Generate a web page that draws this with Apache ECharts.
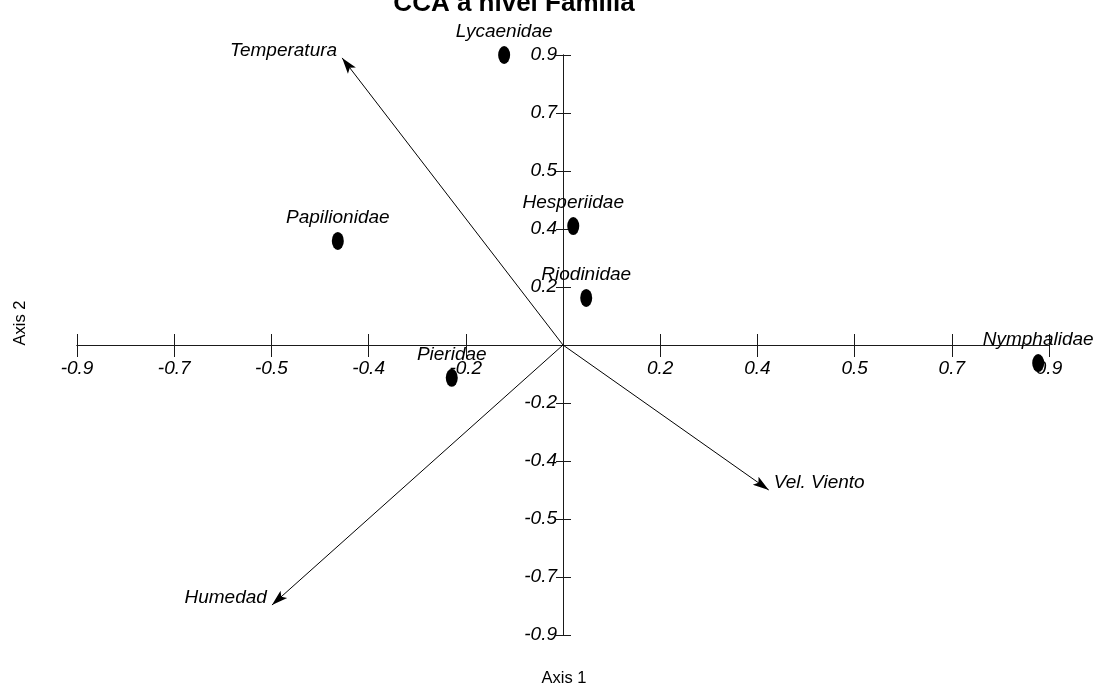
<!DOCTYPE html>
<html>
<head>
<meta charset="utf-8">
<script src="https://cdn.jsdelivr.net/npm/echarts@6/dist/echarts.min.js"></script>
<style>
html,body{margin:0;padding:0;background:#fff;}
#chart{width:1101px;height:695px;}
</style>
</head>
<body>
<div id="chart"></div>
<script>
// ---- data ----
const families = ['Lycaenidae', 'Papilionidae', 'Hesperiidae', 'Riodinidae', 'Pieridae', 'Nymphalidae'];
const famAxis1 = [-0.109, -0.417, 0.019, 0.043, -0.206, 0.880];
const famAxis2 = [0.900, 0.323, 0.369, 0.146, -0.102, -0.056];

const variables = ['Temperatura', 'Vel. Viento', 'Humedad'];
const varAxis1 = [-0.409, 0.381, -0.539];
const varAxis2 = [0.891, -0.450, -0.807];
const varLabelSide = ['left', 'right', 'left'];

const xTickLabels = ['-0.9', '-0.7', '-0.5', '-0.4', '-0.2', '', '0.2', '0.4', '0.5', '0.7', '0.9'];
const yTickLabels = ['-0.9', '-0.7', '-0.5', '-0.4', '-0.2', '', '0.2', '0.4', '0.5', '0.7', '0.9'];

const titleText = 'CCA a nivel Familia';
const xName = 'Axis 1';
const yName = 'Axis 2';

// ---- layout ----
const FF = '"Liberation Sans", Arial, sans-serif';
const labelSize = 19;
const nameSize = 16.5;
const titleSize = 26;

const G = {left: 77, right: 52, top: 55, bottom: 60};
const W = 1101, H = 695;
const plotW = W - G.left - G.right, plotH = H - G.top - G.bottom;
const XMIN = -0.9, XMAX = 0.9, YMIN = -0.9, YMAX = 0.9;
const STEP = 0.18;
// distance from the grid edges to the zero lines (axes cross at the origin)
const zeroFromBottom = plotH * (0 - YMIN) / (YMAX - YMIN);
const zeroFromTop = plotH - zeroFromBottom;
const zeroFromLeft = plotW * (0 - XMIN) / (XMAX - XMIN);
const zeroFromRight = plotW - zeroFromLeft;

const axisColor = '#1a1a1a';

const chart = echarts.init(document.getElementById('chart'), null, {renderer: 'canvas'});

const commonX = {type: 'value', min: XMIN, max: XMAX, interval: STEP, splitLine: {show: false}};
const commonY = {type: 'value', min: YMIN, max: YMAX, interval: STEP, splitLine: {show: false}};

const option = {
  animation: false,
  backgroundColor: '#ffffff',
  grid: {left: G.left, right: G.right, top: G.top, bottom: G.bottom, containLabel: false, outerBoundsMode: 'none'},
  xAxis: [
    Object.assign({}, commonX, {
      position: 'bottom', offset: -zeroFromBottom,
      axisLine: {onZero: false, lineStyle: {color: axisColor, width: 1}},
      axisTick: {show: true, inside: false, length: 12, lineStyle: {color: axisColor, width: 1}},
      axisLabel: {
        show: true, margin: 14, hideOverlap: false, showMinLabel: true, showMaxLabel: true,
        color: '#000', fontFamily: FF, fontStyle: 'italic', fontSize: labelSize,
        formatter: function (v) { return xTickLabels[Math.round(v / STEP) + 5]; }
      }
    }),
    Object.assign({}, commonX, {
      position: 'top', offset: -zeroFromTop,
      axisLine: {onZero: false, lineStyle: {color: axisColor, width: 1}},
      axisTick: {show: true, inside: false, length: 11, lineStyle: {color: axisColor, width: 1}},
      axisLabel: {show: false}
    })
  ],
  yAxis: [
    Object.assign({}, commonY, {
      position: 'left', offset: -zeroFromLeft,
      axisLine: {onZero: false, lineStyle: {color: axisColor, width: 1}},
      axisTick: {show: true, inside: false, length: 7, lineStyle: {color: axisColor, width: 1}},
      axisLabel: {
        show: true, margin: 6, hideOverlap: false, showMinLabel: true, showMaxLabel: true,
        color: '#000', fontFamily: FF, fontStyle: 'italic', fontSize: labelSize,
        formatter: function (v) { return yTickLabels[Math.round(v / STEP) + 5]; }
      }
    }),
    Object.assign({}, commonY, {
      position: 'right', offset: -zeroFromRight,
      axisLine: {onZero: false, lineStyle: {color: axisColor, width: 1}},
      axisTick: {show: true, inside: false, length: 8, lineStyle: {color: axisColor, width: 1}},
      axisLabel: {show: false}
    })
  ],
  graphic: [
    {type: 'text', x: 514, y: 3.5, z: 10,
     style: {text: titleText, fill: '#000', font: 'bold ' + titleSize + 'px ' + FF, textAlign: 'center', textVerticalAlign: 'middle'}},
    {type: 'text', x: 564, y: 678, z: 10,
     style: {text: xName, fill: '#000', font: nameSize + 'px ' + FF, textAlign: 'center', textVerticalAlign: 'middle'}},
    {type: 'text', x: 20, y: 323, rotation: Math.PI / 2, z: 10,
     style: {text: yName, fill: '#000', font: nameSize + 'px ' + FF, textAlign: 'center', textVerticalAlign: 'middle'}}
  ],
  series: [
    {
      type: 'lines',
      coordinateSystem: 'cartesian2d',
      xAxisIndex: 0, yAxisIndex: 0,
      symbol: ['none', 'path://M4,-14 M4,0 L8,14 L4,11 L0,14 Z'],
      symbolSize: [0, [10, 32]],
      lineStyle: {color: '#000', width: 1, opacity: 1, curveness: 0},
      itemStyle: {color: '#000', opacity: 1},
      data: variables.map(function (n, i) {
        return {name: n, coords: [[0, 0], [varAxis1[i], varAxis2[i]]]};
      }),
      z: 3
    },
    {
      type: 'scatter',
      xAxisIndex: 0, yAxisIndex: 0,
      symbol: 'circle',
      symbolSize: 0.1,
      itemStyle: {color: 'rgba(0,0,0,0)', opacity: 1},
      data: variables.map(function (n, i) {
        return {
          name: n, value: [varAxis1[i], varAxis2[i]],
          label: {
            show: true, position: varLabelSide[i], distance: 5, offset: [0, -7],
            formatter: n, color: '#000', opacity: 1, fontFamily: FF, fontStyle: 'italic', fontSize: labelSize
          }
        };
      }),
      z: 4
    },
    {
      type: 'scatter',
      xAxisIndex: 0, yAxisIndex: 0,
      symbol: 'path://M0,9 A6,9 0 1,1 12,9 A6,9 0 1,1 0,9 Z',
      symbolSize: [12, 18],
      itemStyle: {color: '#000', opacity: 1},
      label: {
        show: true, position: 'top', distance: 5, opacity: 1,
        formatter: function (p) { return p.name; },
        color: '#000', fontFamily: FF, fontStyle: 'italic', fontSize: labelSize
      },
      data: families.map(function (n, i) { return {name: n, value: [famAxis1[i], famAxis2[i]]}; }),
      z: 5
    }
  ]
};
chart.setOption(option);
</script>
</body>
</html>
